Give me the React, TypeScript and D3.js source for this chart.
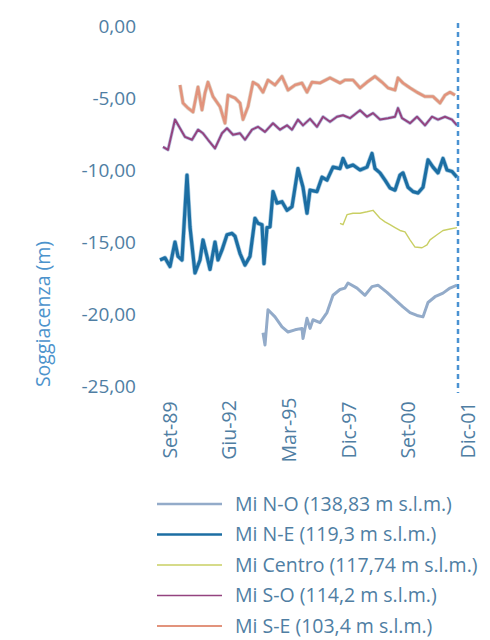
import React from "react";
import * as d3 from "d3";

// x positions are month-like indices counted from Set-89 (0) to Dic-01 (150)
const xTickLabels = ["Set-89", "Giu-92", "Mar-95", "Dic-97", "Set-00", "Dic-01"];
const yTicks = [0, -5, -10, -15, -20, -25];

const neT = [1, 3.5, 6, 8.5, 10, 12, 14.5, 16, 18.5, 21, 22.5, 24.5, 26, 28.5, 30, 32, 34.5, 37, 38.5, 41, 43.5, 46, 48.5, 50, 52, 53, 54.5, 56, 57.5, 59.5, 62, 64.5, 67, 70, 72.5, 74.5, 76, 79.5, 82, 84.5, 87.5, 91, 92.5, 94.5, 97.5, 101, 104.5, 107, 108.5, 111, 113.5, 116, 118.5, 121, 122.5, 125, 127.5, 130, 132.5, 135, 137.5, 140, 142.5, 144.5, 147, 149.5];
const neV = [-16.25, -16.1, -16.7, -15.0, -16.0, -16.25, -10.35, -13.96, -17.15, -16.25, -14.86, -16.0, -16.9, -15.0, -16.25, -15.55, -14.5, -14.4, -14.6, -15.8, -16.6, -16.0, -13.35, -13.7, -13.8, -16.5, -14.0, -13.95, -11.5, -12.3, -12.2, -12.8, -12.55, -9.9, -11.2, -13.0, -11.4, -11.5, -10.5, -10.7, -9.8, -9.9, -9.2, -9.8, -9.65, -10.0, -9.8, -8.85, -9.9, -10.2, -10.7, -11.25, -11.4, -10.35, -10.2, -11.2, -11.5, -11.6, -11.2, -9.3, -9.8, -10.2, -9.2, -10.0, -10.1, -10.5];

const seT = [11, 12.5, 15, 17.5, 20, 22, 23.5, 25, 27.5, 31, 33.5, 35, 38.5, 41, 42.5, 45, 47.5, 50, 52.5, 55, 58.5, 62, 65, 68.5, 72, 74.5, 77, 81, 86, 91, 93.5, 97.5, 101, 104.5, 108.5, 112, 115, 118.5, 120, 122.5, 126, 129.5, 133.5, 137.5, 141, 143.5, 146, 148.5];
const seV = [-4.1, -5.35, -5.7, -5.97, -4.24, -5.83, -4.65, -3.9, -4.9, -5.6, -6.75, -4.8, -5.0, -5.35, -6.5, -5.6, -3.9, -4.1, -4.6, -3.75, -4.1, -3.5, -4.45, -4.1, -3.96, -4.6, -3.9, -3.96, -3.6, -3.96, -3.75, -3.75, -4.3, -3.9, -3.5, -3.9, -4.3, -4.45, -3.6, -3.96, -4.3, -4.6, -4.9, -4.9, -5.35, -4.8, -4.6, -4.8];

const soT = [2.5, 5, 8.5, 11, 13.5, 17, 20, 22.5, 25, 28.5, 32, 34.5, 37.5, 41, 43.5, 47, 50, 53.5, 57.5, 61, 64.5, 67, 70, 72.5, 76, 79.5, 82.5, 86, 89.5, 92.5, 96, 101, 104.5, 107.5, 111, 115, 118.5, 120, 122, 126, 129.5, 133.5, 137, 140, 143.5, 147, 149.5];
const soV = [-8.4, -8.6, -6.5, -7.1, -7.7, -7.9, -7.2, -7.45, -7.9, -8.5, -7.45, -7.1, -7.55, -7.45, -7.9, -7.2, -7.0, -7.35, -6.75, -7.2, -6.9, -7.2, -6.5, -6.9, -6.45, -7.0, -6.3, -6.65, -6.3, -6.2, -6.4, -5.85, -6.3, -6.05, -6.5, -6.4, -6.3, -5.7, -6.4, -6.75, -6.3, -6.9, -6.3, -6.5, -6.3, -6.5, -6.9];

const ceT = [91, 92.5, 94.5, 97.5, 101, 104.5, 107.5, 111, 113.5, 116, 118.5, 121, 123.5, 126, 128.5, 132, 134.5, 136, 139.5, 142.5, 146, 149.5];
const ceV = [-13.7, -13.8, -13.1, -13.0, -13.0, -12.9, -12.8, -13.35, -13.6, -13.8, -14.0, -14.2, -14.3, -14.85, -15.35, -15.4, -15.2, -14.85, -14.5, -14.2, -14.1, -14.0];

const noT = [52.5, 53.5, 55, 58.5, 62, 65, 68.5, 72, 72.5, 74.5, 76, 77.5, 81, 84.5, 87.5, 91, 93.5, 95, 99.5, 103.5, 107, 110, 114.5, 118.5, 122.5, 126, 129.5, 132.5, 135, 138.5, 142.5, 146, 149.5];
const noV = [-21.3, -22.15, -19.7, -20.2, -20.9, -21.25, -21.1, -21.0, -21.7, -20.3, -21.0, -20.4, -20.6, -19.9, -18.7, -18.3, -18.2, -17.85, -18.2, -18.7, -18.1, -18.0, -18.5, -19.0, -19.5, -19.9, -20.1, -20.2, -19.2, -18.8, -18.55, -18.2, -18.0];

const seriesNames = [
  "Mi N-O (138,83 m s.l.m.)",
  "Mi N-E (119,3 m s.l.m.)",
  "Mi Centro (117,74 m s.l.m.)",
  "Mi S-O (114,2 m s.l.m.)",
  "Mi S-E (103,4 m s.l.m.)",
];

const W = 490;
const H = 640;
const FONT = "'Open Sans', 'Noto Sans', sans-serif";
const TXT = "#4f7ea3";

export default function App() {
  const x = d3.scaleLinear().domain([0, 150]).range([158, 458]);
  const y = d3.scaleLinear().domain([0, -25]).range([26, 386]);
  const xLab = d3.scalePoint<string>().domain(xTickLabels).range([170, 468]);
  const line = d3
    .line<[number, number]>()
    .x((d) => x(d[0]))
    .y((d) => y(d[1]));
  const zip = (t: number[], v: number[]) => t.map((ti, i) => [ti, v[i]] as [number, number]);

  const series = [
    { name: seriesNames[0], data: zip(noT, noV), color: "#93abc9", width: 3, halo: null as string | null },
    { name: seriesNames[1], data: zip(neT, neV), color: "#1c6ea3", width: 3.2, halo: "#6aa6cc" },
    { name: seriesNames[2], data: zip(ceT, ceV), color: "#c9cf63", width: 1.4, halo: null },
    { name: seriesNames[3], data: zip(soT, soV), color: "#94437f", width: 2, halo: "#8e9fd0" },
    { name: seriesNames[4], data: zip(seT, seV), color: "#e2937c", width: 2.6, halo: "#c9b7a4" },
  ];
  const legendOrder = [0, 1, 2, 3, 4];
  const legendY = d3.scalePoint<number>().domain(legendOrder).range([504, 626]);

  return (
    <svg
      width={W}
      height={H}
      style={{ position: "absolute", left: 0, top: 0, background: "#fff" }}
      fontFamily={FONT}
    >
      {yTicks.map((t) => (
        <text key={t} x={136} y={y(t)} dy="0.35em" textAnchor="end" fontSize={19} fill={TXT}>
          {d3.format(".2f")(t).replace(".", ",").replace("−", "-")}
        </text>
      ))}
      <text
        transform={`translate(43,314) rotate(-90)`}
        textAnchor="middle"
        dy="0.35em"
        fontSize={19.5}
        fill="#4c93cc"
      >
        Soggiacenza (m)
      </text>
      {xTickLabels.map((l) => (
        <text
          key={l}
          transform={`translate(${xLab(l)},430) rotate(-90)`}
          textAnchor="middle"
          dy="0.35em"
          fontSize={19.5}
          fill={TXT}
        >
          {l}
        </text>
      ))}
      {[4, 3, 0, 2, 1].map((i) => {
        const s = series[i];
        return (
          <g key={s.name}>
            {s.halo && (
              <path d={line(s.data) || ""} fill="none" stroke={s.halo} strokeWidth={s.width + 1.4} strokeLinejoin="round" opacity={0.6} />
            )}
            <path d={line(s.data) || ""} fill="none" stroke={s.color} strokeWidth={s.width} strokeLinejoin="round" />
          </g>
        );
      })}
      <line x1={x(150)} x2={x(150)} y1={23} y2={393} stroke="#4a92d2" strokeWidth={2.5} strokeDasharray="5,4" />
      {legendOrder.map((i) => {
        const s = series[i];
        const ly = legendY(i) as number;
        return (
          <g key={"lg" + i}>
            <line x1={157} x2={222} y1={ly} y2={ly} stroke={s.color} strokeWidth={Math.max(1.5, s.width - 0.5)} />
            <text x={235} y={ly} dy="0.35em" fontSize={19.5} fill={TXT}>
              {s.name}
            </text>
          </g>
        );
      })}
    </svg>
  );
}
